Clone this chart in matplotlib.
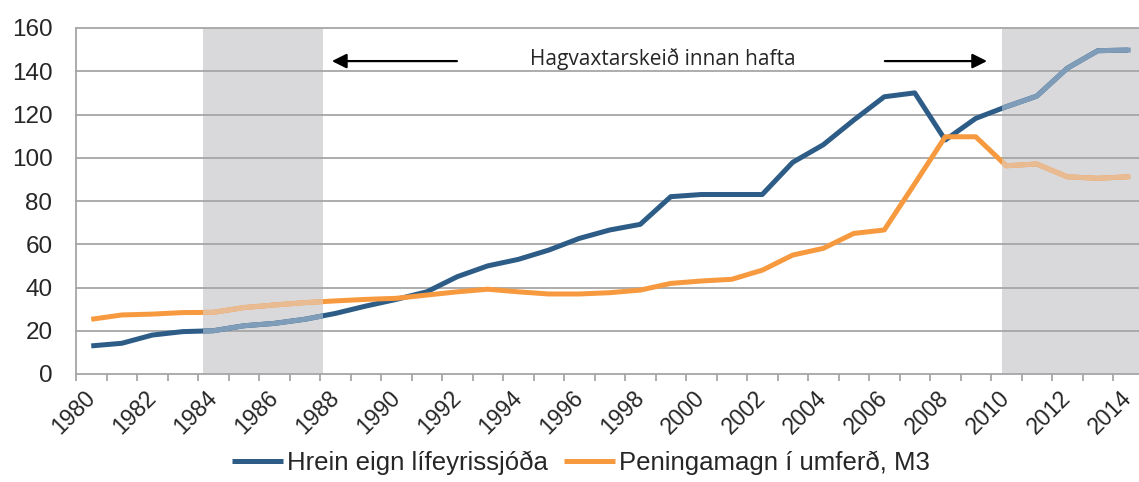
import matplotlib
matplotlib.use("Agg")
import matplotlib.pyplot as plt
from matplotlib.ticker import FixedLocator
import matplotlib.transforms as mtransforms

years = list(range(1980, 2015))
pension = [13, 14.2, 18, 19.6, 20, 22.3, 23.4, 25.3, 28, 31.4,
           34.5, 38, 45, 50, 53, 57.3, 62.7, 66.6, 69.2, 82,
           83, 83, 83, 97.9, 106, 117.4, 128.2, 130, 108.2, 118.2,
           123.6, 128.5, 141.4, 149.5, 149.8]
money = [25.3, 27.3, 27.7, 28.4, 28.5, 30.7, 31.9, 33, 33.8, 34.5,
         35, 36.5, 38, 39.2, 38, 37, 37, 37.6, 38.8, 41.9,
         43, 43.8, 48, 55, 58.1, 65, 66.6, 88, 109.7, 109.7,
         96.3, 97.1, 91.2, 90.5, 91.2]
series_labels = ["Hrein eign lífeyrissjóða", "Peningamagn í umferð, M3"]
tick_years = list(range(1980, 2015, 2))
y_ticks = [0, 20, 40, 60, 80, 100, 120, 140, 160]
bands = [(1983.66, 1987.6), (2009.86, 2015.5)]
annotation_text = "Hagvaxtarskeið innan hafta"

plt.rcParams['font.family'] = ['Liberation Sans', 'DejaVu Sans']

fig = plt.figure(figsize=(11.39, 4.82), dpi=100)
ax = fig.add_axes([76/1139, 108/482, (1143.5-76)/1139, (374-28)/482])

grid_c = '#A6A6A6'
band_c = '#D9D9DB'
blue = '#2D5D87'
blue_l = '#7F9DB9'
orange = '#F79A3F'
orange_l = '#E9BB93'
text_c = '#262626'

spans = []
for a, b in bands:
    spans.append(ax.axvspan(a, b, color=band_c, zorder=1, lw=0))

for v in y_ticks[1:]:
    ax.axhline(v, color=grid_c, lw=1.3, zorder=2, clip_on=False)

ax.plot(years, pension, color=blue, lw=3.6, zorder=3, label=series_labels[0],
        solid_capstyle='butt', solid_joinstyle='round')
ax.plot(years, money, color=orange, lw=3.6, zorder=3, label=series_labels[1],
        solid_capstyle='butt', solid_joinstyle='round')
for sp in spans:
    l1, = ax.plot(years, pension, color=blue_l, lw=3.6, zorder=4, solid_joinstyle='round')
    l1.set_clip_path(sp)
    l2, = ax.plot(years, money, color=orange_l, lw=3.6, zorder=4, solid_joinstyle='round')
    l2.set_clip_path(sp)

ax.set_xlim(1979.5, 2014.5)
ax.set_ylim(0, 160)

for s in ['top', 'right']:
    ax.spines[s].set_visible(False)
for s in ['left', 'bottom']:
    ax.spines[s].set_color(grid_c)
    ax.spines[s].set_linewidth(1.3)
    ax.spines[s].set_zorder(5)

ax.set_yticks(y_ticks)
ax.set_yticklabels([str(v) for v in y_ticks], fontsize=17.5, color=text_c)
ax.tick_params(axis='y', length=0, pad=17)

ax.xaxis.set_major_locator(FixedLocator(tick_years))
ax.set_xticklabels([str(y) for y in tick_years], fontsize=16.5, color=text_c,
                   rotation=45, ha='right', va='center', rotation_mode='anchor')
shift = mtransforms.ScaledTranslation(-6/100, 0, fig.dpi_scale_trans)
for lab in ax.get_xticklabels():
    lab.set_transform(lab.get_transform() + shift)
ax.xaxis.set_minor_locator(FixedLocator([y - 0.5 for y in years] + [years[-1] + 0.5]))
ax.tick_params(axis='x', which='major', length=0, pad=15)
ax.tick_params(axis='x', which='minor', length=5, width=1.3, color=grid_c, direction='out')

# arrows and annotation
arrow_y = 144.7
ax.annotate('', xy=(1987.89, arrow_y), xytext=(1991.99, arrow_y),
            arrowprops=dict(arrowstyle='-|>', color='black', lw=1.6, mutation_scale=22,
                            shrinkA=0, shrinkB=0), zorder=6)
ax.annotate('', xy=(2009.37, arrow_y), xytext=(2006.02, arrow_y),
            arrowprops=dict(arrowstyle='-|>', color='black', lw=1.6, mutation_scale=22,
                            shrinkA=0, shrinkB=0), zorder=6)
ax.text(1998.75, 142.9, annotation_text, ha='center', va='baseline',
        fontsize=15, family=['Open Sans', 'DejaVu Sans'], color=text_c, zorder=6)

leg = fig.legend(loc='lower center', bbox_to_anchor=(0.51, -0.006), ncol=2, frameon=False,
                 fontsize=18.5, handlelength=2.0, handletextpad=0.15, columnspacing=0.6,
                 borderaxespad=0)
for t in leg.get_texts():
    t.set_color(text_c)

fig.savefig('out.png', dpi=100)
